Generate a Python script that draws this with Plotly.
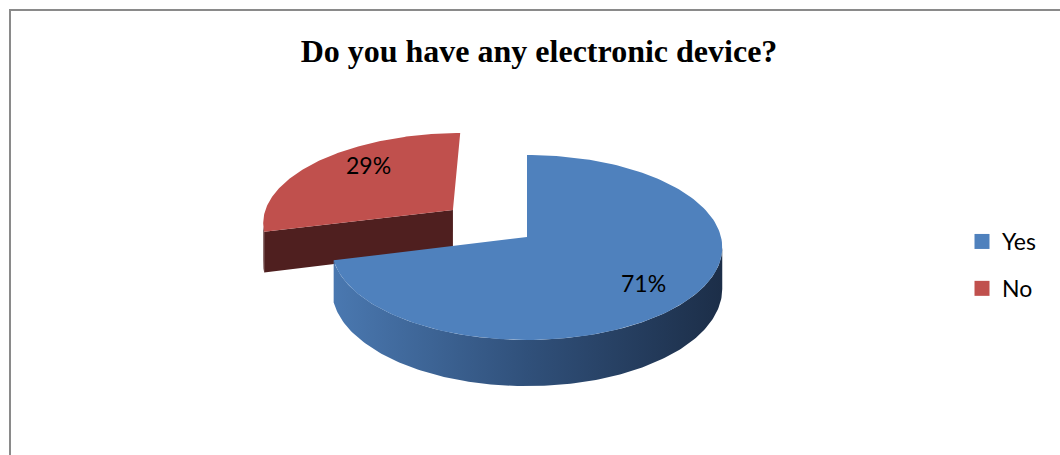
import numpy as np
import plotly.graph_objects as go

# Survey answers
labels = ["Yes", "No"]
values = [71, 29]
explode = [0.0, 0.5]

top_colors = ["#4F81BD", "#C0504D"]
side_colors = ["#30507A", "#4F1F1F"]
yes_side_scale = [[0.0, "#4A78B0"], [0.5, "#30507A"], [1.0, "#1C2E48"]]

# Pseudo-3D pie geometry (pixel space of the plot area)
CX, CY = 527.0, 237.0     # projected pie centre
R, RT = 194.0, 91.3       # horizontal radius / foreshortened vertical radius
PERSP = 0.113             # perspective strength
DEPTH = 41.0              # thickness of the pie
LABEL_POS = 0.72          # radial position of the percent labels
LABEL_SHIFT = [(0, -4), (14, 9)]   # fine placement of each percent label (px)

W, H = 1060, 455


def proj(u, v, z=0.0):
    s = 1.0 / (1.0 - PERSP * v)
    return CX + R * u * s, CY + RT * v * s + DEPTH * z * s


def ring(a0, a1, n=160):
    t = np.radians(np.linspace(a0, a1, n))
    return np.sin(t), -np.cos(t)


fig = go.Figure()

total = float(sum(values))
starts = np.cumsum([0.0] + values[:-1]) / total * 360.0
spans = np.array(values) / total * 360.0

# silhouette angles of the cylinder wall (right / left)
sil_r = 90.0 + np.degrees(np.arcsin(PERSP))
sil_l = 270.0 - np.degrees(np.arcsin(PERSP))

sides = [[] for _ in labels]
tops = []
notes = []
for i, (lab, val) in enumerate(zip(labels, values)):
    a0, a1 = starts[i], starts[i] + spans[i]
    mid = np.radians((a0 + a1) / 2.0)
    ou, ov = explode[i] * np.sin(mid), explode[i] * -np.cos(mid)

    # top face
    u, v = ring(a0, a1)
    tu = np.concatenate([[ou], u + ou, [ou]])
    tv = np.concatenate([[ov], v + ov, [ov]])
    tx, ty = proj(tu, tv)
    tops.append(go.Scatter(x=tx, y=ty, mode="lines", fill="toself",
                           fillcolor=top_colors[i], line=dict(width=0),
                           hoverinfo="skip", showlegend=False))

    # outer wall (front-facing part only)
    w0, w1 = max(a0, sil_r), min(a1, sil_l)
    if w1 > w0:
        u, v = ring(w0, w1)
        x1, y1 = proj(u + ou, v + ov, 0)
        x2, y2 = proj(u[::-1] + ou, v[::-1] + ov, 1)
        if i == 0:
            kw = dict(fillgradient=dict(type="horizontal", colorscale=yes_side_scale))
        else:
            kw = dict(fillcolor=side_colors[i])
        sides[i].append(go.Scatter(x=np.concatenate([x1, x2]), y=np.concatenate([y1, y2]),
                                   mode="lines", fill="toself", line=dict(width=0),
                                   hoverinfo="skip", showlegend=False, **kw))

    # radial cut face at the start of a slice (faces the viewer)
    if i > 0:
        ua, va = np.sin(np.radians(a0)), -np.cos(np.radians(a0))
        fu = np.array([ou + ua, ou, ou, ou + ua])
        fv = np.array([ov + va, ov, ov, ov + va])
        fz = np.array([0, 0, 1, 1])
        fx, fy = proj(fu, fv, fz)
        sides[i].append(go.Scatter(x=fx, y=fy, mode="lines", fill="toself",
                                   fillcolor=side_colors[i], line=dict(width=0),
                                   hoverinfo="skip", showlegend=False))

    # percent label
    lx, ly = proj(ou + LABEL_POS * np.sin(mid), ov + LABEL_POS * -np.cos(mid))
    notes.append(dict(x=lx, y=ly, text=f"{val / total * 100:.0f}%", showarrow=False,
                      xref="x", yref="y", xshift=LABEL_SHIFT[i][0], yshift=LABEL_SHIFT[i][1],
                      font=dict(family="Lato", size=23, color="#000000")))

# back (exploded) slice first, front slice on top of it
fig.add_traces(sides[1] + [tops[1]] + sides[0] + [tops[0]])

# legend entries
for i, lab in enumerate(labels):
    fig.add_trace(go.Scatter(x=[None], y=[None], mode="markers", name=lab,
                             legendgroup=lab,
                             marker=dict(symbol="square", size=15, color=top_colors[i])))

fig.update_layout(
    width=W, height=H, autosize=False,
    margin=dict(l=0, r=0, t=0, b=0),
    paper_bgcolor="#FFFFFF", plot_bgcolor="#FFFFFF",
    xaxis=dict(range=[0, W], visible=False, fixedrange=True),
    yaxis=dict(range=[H, 0], visible=False, fixedrange=True),
    title=dict(text="<b>Do you have any electronic device?</b>",
               x=539 / W, xanchor="center", y=1 - 51 / H, yanchor="middle",
               font=dict(family="Liberation Serif", size=32, color="#000000")),
    legend=dict(x=962 / W, y=1 - 220 / H, xanchor="left", yanchor="top",
                font=dict(family="Lato", size=23, color="#000000"),
                tracegroupgap=14, bgcolor="rgba(0,0,0,0)"),
    annotations=notes,
    shapes=[
        dict(type="line", xref="paper", yref="paper", x0=9 / W, x1=1, y0=1 - 10 / H, y1=1 - 10 / H,
             line=dict(color="#8A8A8A", width=2)),
        dict(type="line", xref="paper", yref="paper", x0=10 / W, x1=10 / W, y0=0, y1=1 - 9 / H,
             line=dict(color="#8A8A8A", width=2)),
    ],
)

fig.write_html("out.html")
